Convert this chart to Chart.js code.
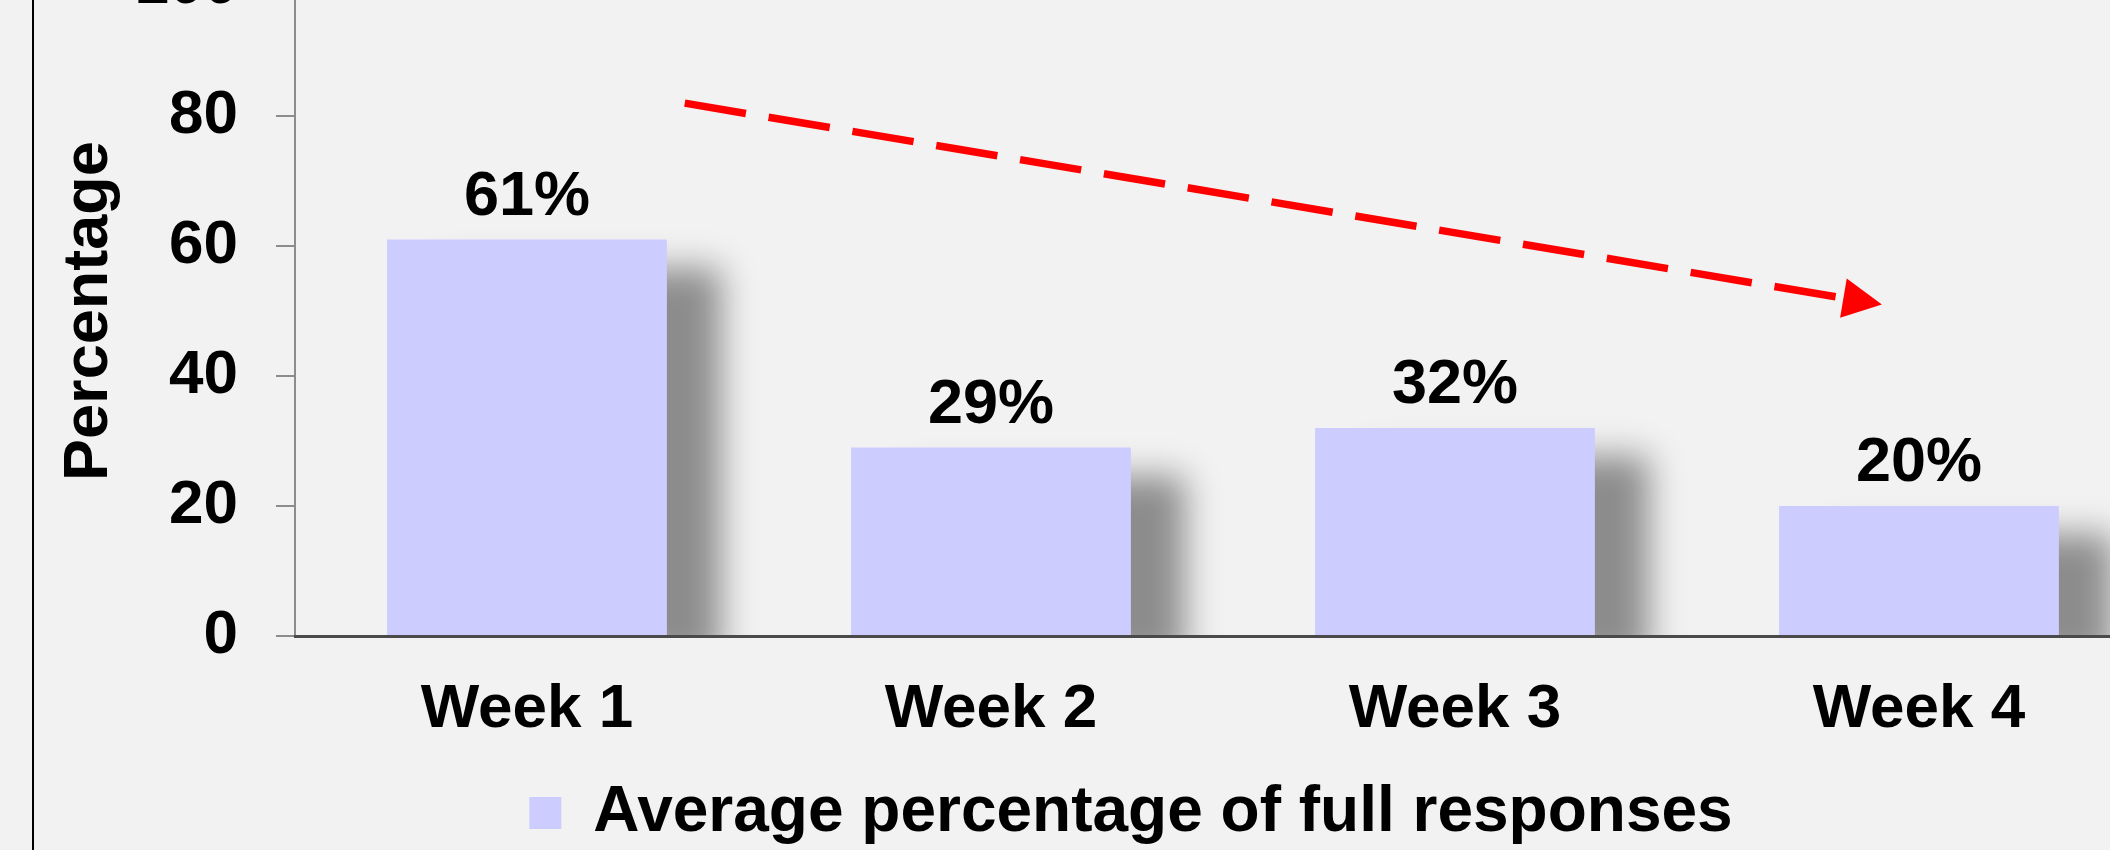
<!DOCTYPE html>
<html lang="en">
<head>
  <meta charset="UTF-8" />
  <title>Average percentage of full responses</title>
  <script src="https://cdn.jsdelivr.net/npm/chart.js"></script>
  <style>
    html, body {
      margin: 0;
      padding: 0;
      width: 2110px;
      height: 850px;
      overflow: hidden;
      background: #f2f2f2;
    }
    .frame-line {
      position: absolute;
      left: 32px;
      top: 0;
      width: 2px;
      height: 850px;
      background: #000;
    }
    .chart-box {
      position: absolute;
      left: 0;
      top: -89px;
    }
  </style>
</head>
<body>
  <div class="frame-line"></div>
  <div class="chart-box">
    <canvas id="responsesChart" width="2214" height="944"></canvas>
  </div>
  <script>
    const weeks = ['Week 1', 'Week 2', 'Week 3', 'Week 4'];
    const fullResponsePct = [61, 29, 32, 20];
    const yTickValues = [0, 20, 40, 60, 80, 100];
    // dashed trend arrow, in data units: [category index, percent]
    const trendFrom = [0.34, 82];
    const trendTo = [2.92, 51];

    Chart.defaults.font.family = '"Liberation Sans", Arial, sans-serif';
    Chart.defaults.font.weight = 'bold';
    Chart.defaults.color = '#000';

    // soft grey drop shadow behind the bars
    const barShadow = {
      id: 'barShadow',
      beforeDatasetDraw(chart) {
        const ctx = chart.ctx;
        ctx.save();
        ctx.shadowColor = 'rgba(0,0,0,0.42)';
        ctx.shadowBlur = 32;
        ctx.shadowOffsetX = 54;
        ctx.shadowOffsetY = 28;
      },
      afterDatasetDraw(chart) {
        chart.ctx.restore();
      }
    };

    const trendArrow = {
      id: 'trendArrow',
      afterDatasetsDraw(chart) {
        const { ctx, scales: { x, y } } = chart;
        const x0 = x.getPixelForValue(trendFrom[0]), y0 = y.getPixelForValue(trendFrom[1]);
        const x1 = x.getPixelForValue(trendTo[0]), y1 = y.getPixelForValue(trendTo[1]);
        const ang = Math.atan2(y1 - y0, x1 - x0);
        const headLen = 39, headHalf = 20;
        const bx = x1 - headLen * Math.cos(ang), by = y1 - headLen * Math.sin(ang);
        ctx.save();
        ctx.strokeStyle = '#ff0000';
        ctx.fillStyle = '#ff0000';
        ctx.lineWidth = 7.5;
        ctx.setLineDash([62, 23]);
        ctx.beginPath();
        ctx.moveTo(x0, y0);
        ctx.lineTo(bx, by);
        ctx.stroke();
        ctx.setLineDash([]);
        ctx.beginPath();
        ctx.moveTo(x1, y1);
        ctx.lineTo(bx + headHalf * Math.sin(ang), by - headHalf * Math.cos(ang));
        ctx.lineTo(bx - headHalf * Math.sin(ang), by + headHalf * Math.cos(ang));
        ctx.closePath();
        ctx.fill();
        ctx.restore();
      }
    };

    const barValueLabels = {
      id: 'barValueLabels',
      afterDatasetsDraw(chart) {
        const ctx = chart.ctx;
        const meta = chart.getDatasetMeta(0);
        ctx.save();
        ctx.font = 'bold 63px "Liberation Sans", Arial, sans-serif';
        ctx.fillStyle = '#000';
        ctx.textAlign = 'center';
        ctx.textBaseline = 'alphabetic';
        meta.data.forEach((bar, i) => {
          ctx.fillText(fullResponsePct[i] + '%', bar.x, bar.y - 25);
        });
        ctx.restore();
      }
    };

    new Chart(document.getElementById('responsesChart'), {
      type: 'bar',
      data: {
        labels: weeks,
        datasets: [{
          label: 'Average percentage of full responses',
          data: fullResponsePct,
          backgroundColor: '#ccccff',
          borderWidth: 0,
          categoryPercentage: 1,
          barPercentage: 0.603,
          clip: 0
        }]
      },
      options: {
        responsive: false,
        animation: false,
        layout: { padding: { left: 48, top: 0, right: 0, bottom: 0 } },
        plugins: {
          legend: {
            position: 'bottom',
            labels: {
              boxWidth: 32,
              boxHeight: 32,
              padding: 10,
              color: '#000',
              font: { size: 64, weight: 'bold' }
            }
          },
          tooltip: { enabled: false }
        },
        scales: {
          x: {
            border: { color: '#4a4a4a', width: 3, z: 1 },
            grid: { display: false, drawTicks: false },
            ticks: { color: '#000', padding: 37, font: { size: 62, weight: 'bold' } },
            afterFit(s) { s.height = 135; s.paddingRight = 63; }
          },
          y: {
            min: 0,
            max: 100,
            border: { color: '#8c8c8c', width: 2 },
            grid: { drawOnChartArea: false, tickLength: 19, color: '#8c8c8c', lineWidth: 2 },
            ticks: { color: '#000', padding: 38, font: { size: 62, weight: 'bold' } },
            title: {
              display: true,
              text: 'Percentage',
              color: '#000',
              font: { size: 63, weight: 'bold' }
            },
            afterBuildTicks(s) { s.ticks = yTickValues.map(v => ({ value: v })); },
            afterFit(s) { s.width = 247; }
          }
        }
      },
      plugins: [barShadow, trendArrow, barValueLabels]
    });
  </script>
</body>
</html>
